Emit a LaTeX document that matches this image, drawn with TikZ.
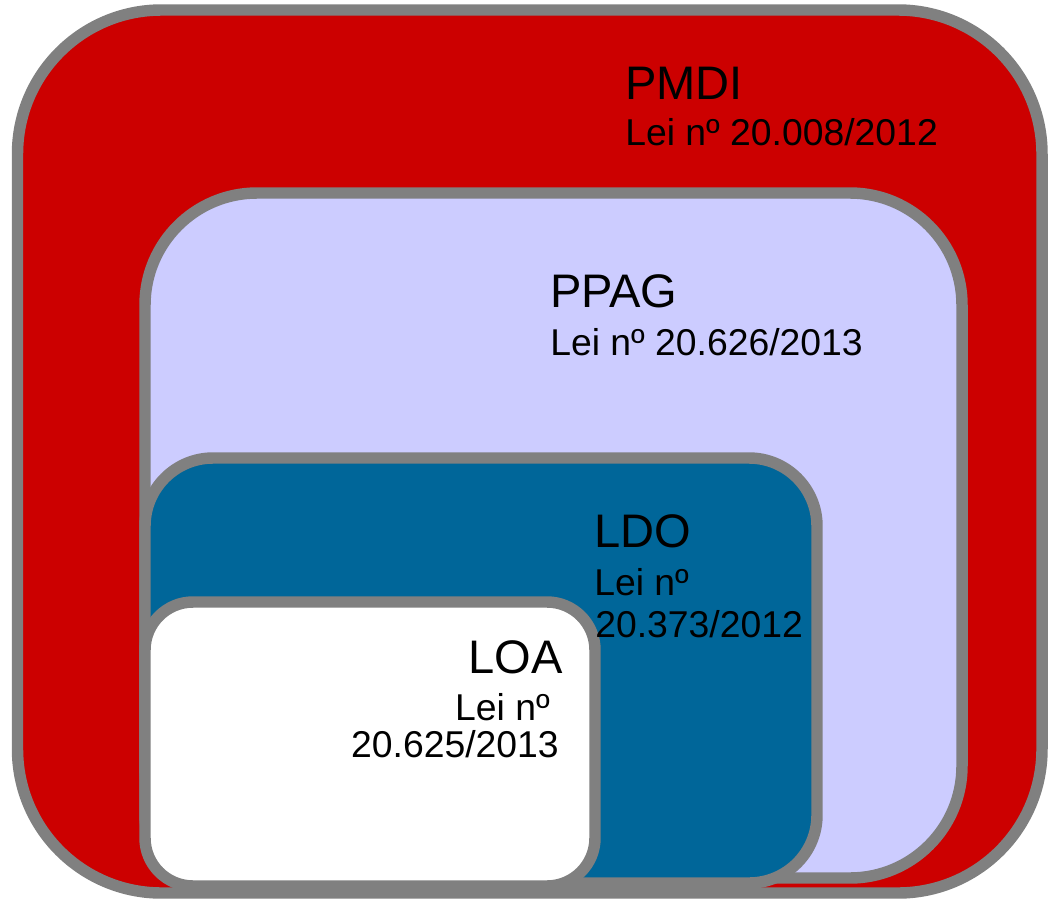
\documentclass[tikz,border=0pt]{standalone}
\usepackage{fontspec}
\setmainfont{Liberation Sans}
\usepackage{xcolor}

\definecolor{pmdired}{HTML}{CC0000}
\definecolor{ppaglilac}{HTML}{CCCCFF}
\definecolor{ldoblue}{HTML}{006699}
\definecolor{framegray}{HTML}{808080}

\tikzset{
  lawbox/.style={draw=framegray, line width=8.6pt},
  title/.style={inner sep=0pt, font=\fontsize{35.3}{40}\selectfont},
  lawno/.style={inner sep=0pt, font=\fontsize{28}{32}\selectfont}
}

\begin{document}
\begin{tikzpicture}[x=0.75pt, y=-0.75pt]
  % Fix the page to the size of the picture
  \useasboundingbox (0,0) rectangle (1048,899);

  % Draw the nested plans, from the largest to the smallest
  \filldraw[lawbox, fill=pmdired, rounded corners=108pt] (17.5,10) rectangle (1042,893);
  \filldraw[lawbox, fill=ppaglilac, rounded corners=84pt] (145,193) rectangle (962,878);
  \filldraw[lawbox, fill=ldoblue, rounded corners=51pt] (145,458) rectangle (817,883);
  \filldraw[lawbox, fill=white, rounded corners=36pt] (145,602) rectangle (595,886);

  % Names and laws
  \node[title, anchor=base west] (pmdi) at (625,99) {PMDI};
  \node[lawno, anchor=base west] (pmdi-lei) at (625,145) {Lei nº 20.008/2012};

  \node[title, anchor=base west] (ppag) at (550,307) {PPAG};
  \node[lawno, anchor=base west] (ppag-lei) at (550,355) {Lei nº 20.626/2013};

  \node[title, anchor=base west] (ldo) at (594,547) {LDO};
  \node[lawno, anchor=base west] (ldo-lei) at (594,595) {Lei nº};
  \node[lawno, anchor=base west] (ldo-num) at (595,637) {20.373/2012};

  \node[title, anchor=base east] (loa) at (563,673) {LOA};
  \node[lawno, anchor=base east] (loa-lei) at (550,720) {Lei nº};
  \node[lawno, anchor=base east] (loa-num) at (559,757) {20.625/2013};
\end{tikzpicture}
\end{document}
